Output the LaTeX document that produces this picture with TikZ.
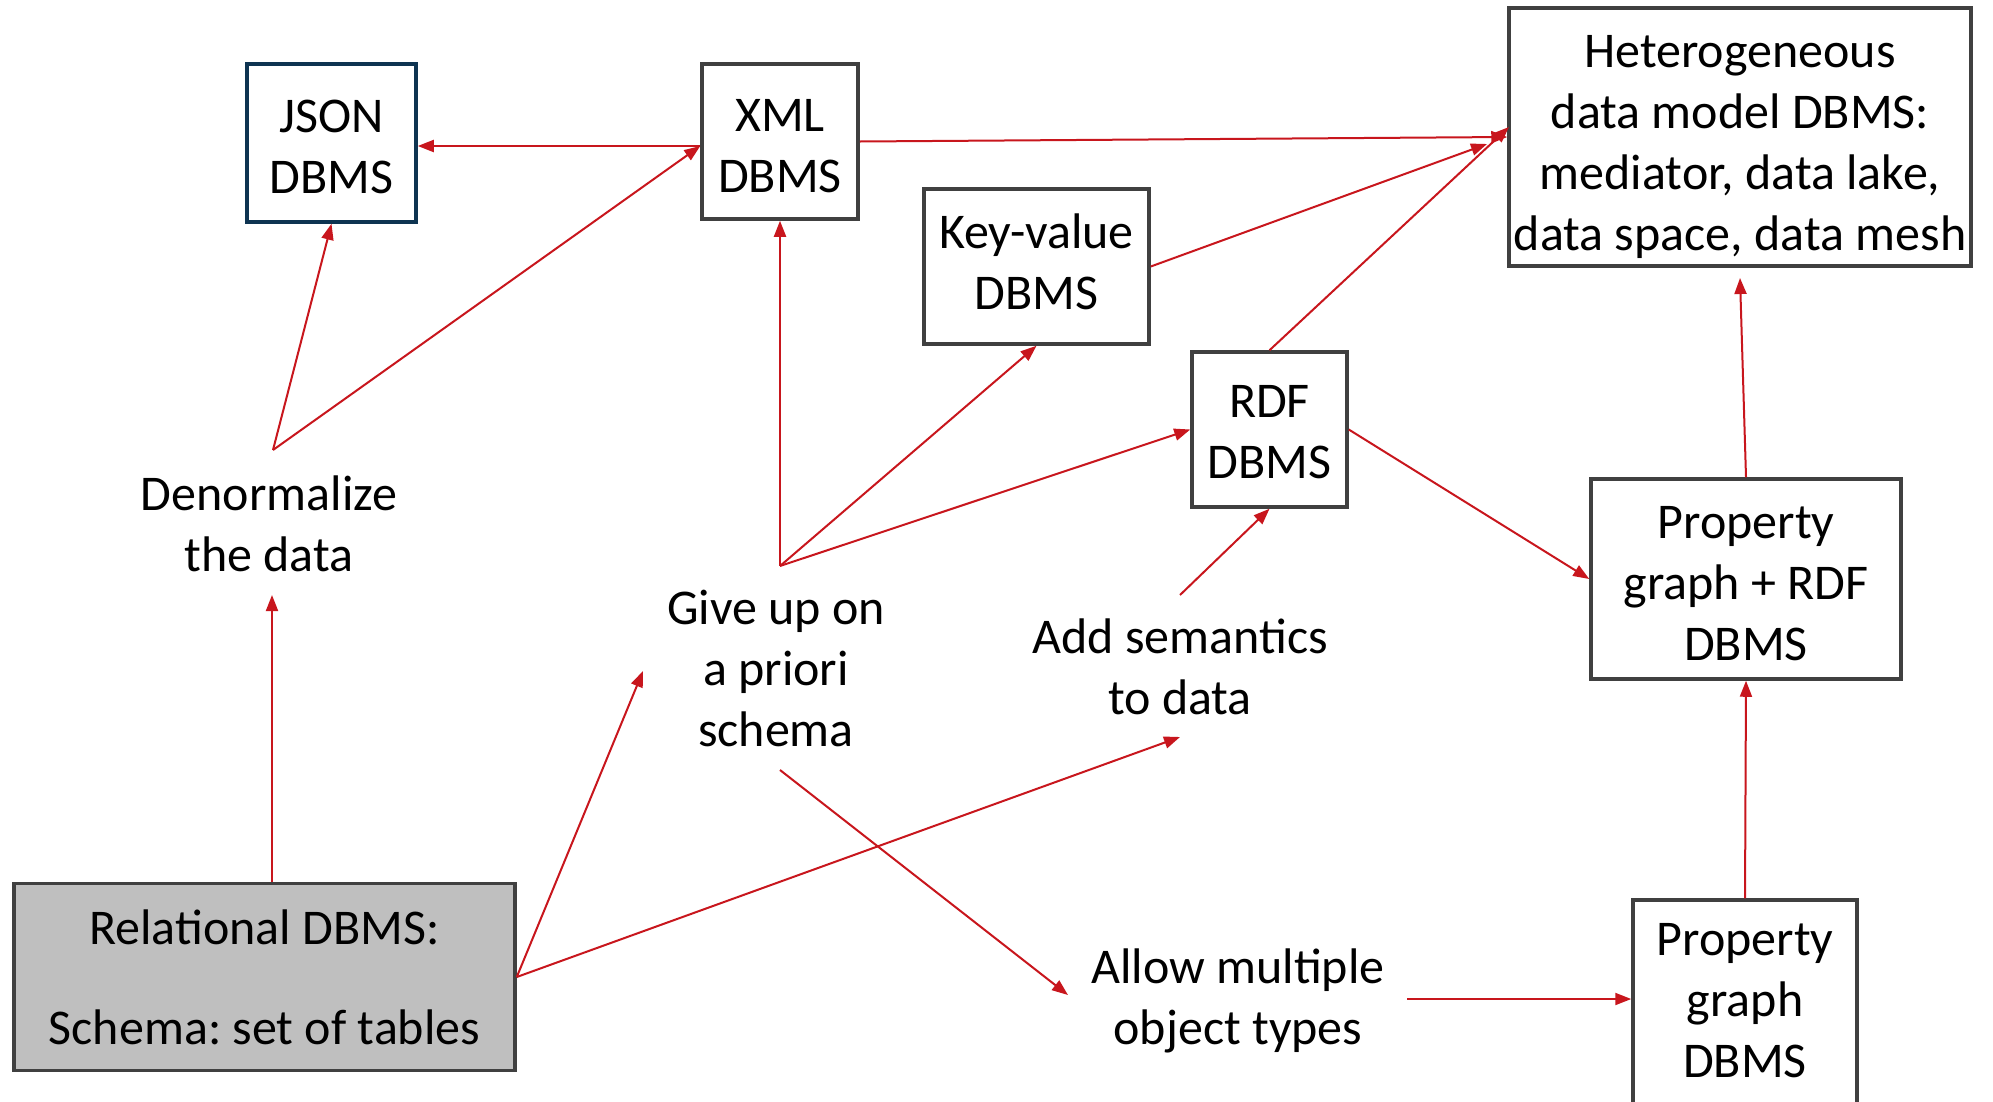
\documentclass[tikz,border=0pt]{standalone}
\usepackage{fontspec}
\setmainfont{Carlito}
\usetikzlibrary{arrows.meta,calc}
\frenchspacing
\definecolor{edgered}{HTML}{C8161D}
\definecolor{boxgray}{HTML}{404040}
\definecolor{navy}{HTML}{0E3451}
\definecolor{relfill}{HTML}{BFBFBF}
% centred lines set as a small table, moved by #1 while keeping its extent
\newcommand\boxlines[2]{\raisebox{#1}[\height][\depth]{\begin{tabular}{@{}c@{}}#2\end{tabular}}}
\tikzset{
  dbbox/.style={draw=boxgray, line width=3.5pt, fill=white, inner sep=0pt,
    align=center, font=\fontsize{50}{61}\selectfont},
  plain/.style={inner sep=0pt, align=center, font=\fontsize{50}{61}\selectfont},
  flow/.style={draw=edgered, line width=2pt, -{Triangle[length=16pt,width=12pt]}},
}
\begin{document}
\begin{tikzpicture}[x=1pt,y=-1pt]
\useasboundingbox (0,0) rectangle (1993,1101);

% database boxes
\node[dbbox, draw=navy, minimum width=169, minimum height=158] (json) at (331.5,143)
  {\boxlines{-8pt}{JSON\\DBMS}};
\node[dbbox, minimum width=156, minimum height=155] (xml) at (780,141.5)
  {\boxlines{-8pt}{XML\\DBMS}};
\node[dbbox, minimum width=462, minimum height=258] (het) at (1740,137)
  {\boxlines{-10pt}{Heterogeneous\\data model DBMS:\\mediator, data lake,\\data space, data mesh}};
\node[dbbox, minimum width=225, minimum height=155] (kv) at (1036.5,266.5)
  {\boxlines{0pt}{Key-value\\DBMS}};
\node[dbbox, minimum width=155, minimum height=155] (rdf) at (1269.5,429.5)
  {\boxlines{-6pt}{RDF\\DBMS}};
\node[dbbox, minimum width=310, minimum height=200] (pgr) at (1746,579)
  {\boxlines{-8pt}{Property\\graph + RDF\\DBMS}};
\node[dbbox, minimum width=224, minimum height=208] (pg) at (1745,1004)
  {\boxlines{0pt}{Property\\graph\\DBMS}};
\node[dbbox, fill=relfill, minimum width=501, minimum height=187] (rel) at (264.5,977)
  {Relational DBMS:\\[39pt]Schema: set of tables};

% transition labels
\node[plain] (dn) at (269,524) {Denormalize\\the data};
\node[plain] (gu) at (776,668) {Give up on\\a priori\\schema};
\node[plain] (as) at (1180,667) {Add semantics\\to data};
\node[plain] (am) at (1238,1001) {Allow multiple\\object types};

% connector end points near the labels
\coordinate (dn-top) at (273,450);
\coordinate (dn-bot) at (272,595);
\coordinate (gu-top) at (780,566);
\coordinate (gu-left) at (643,671);
\coordinate (gu-bot) at (780,770);
\coordinate (as-top) at (1180,595);
\coordinate (as-bot) at (1180,737);
\coordinate (am-in) at (1068,995);
\coordinate (am-out) at (1407,999);
\coordinate (het-kv) at (1487,144);
\coordinate (het-rdf) at (1509,127);
\coordinate (het-bot) at (1740,278);

% connectors
\draw[flow] (xml.west |- 0,146) -- (json.east |- 0,146);
\draw[flow] (dn-top) -- (json.south);
\draw[flow] (dn-top) -- (xml.west |- 0,146);
\draw[flow] (dn-bot |- rel.north) -- (dn-bot);
\draw[flow] (xml.east) -- (het.west);
\draw[flow] (kv.east) -- (het-kv);
\draw[flow] (rdf.north) -- (het-rdf);
\draw[flow] (gu-top) -- (xml.south);
\draw[flow] (gu-top) -- (kv.south);
\draw[flow] (gu-top) -- (rdf.west);
\draw[flow] (as-top) -- (rdf.south);
\draw[flow] (rdf.east) -- (pgr.west);
\draw[flow] (pgr.north) -- (het-bot);
\draw[flow] (pg.north) -- (pgr.south);
\draw[flow] (rel.east) -- (gu-left);
\draw[flow] (rel.east) -- (as-bot);
\draw[flow] (gu-bot) -- (am-in);
\draw[flow] (am-out) -- (am-out -| pg.west);
\end{tikzpicture}
\end{document}
